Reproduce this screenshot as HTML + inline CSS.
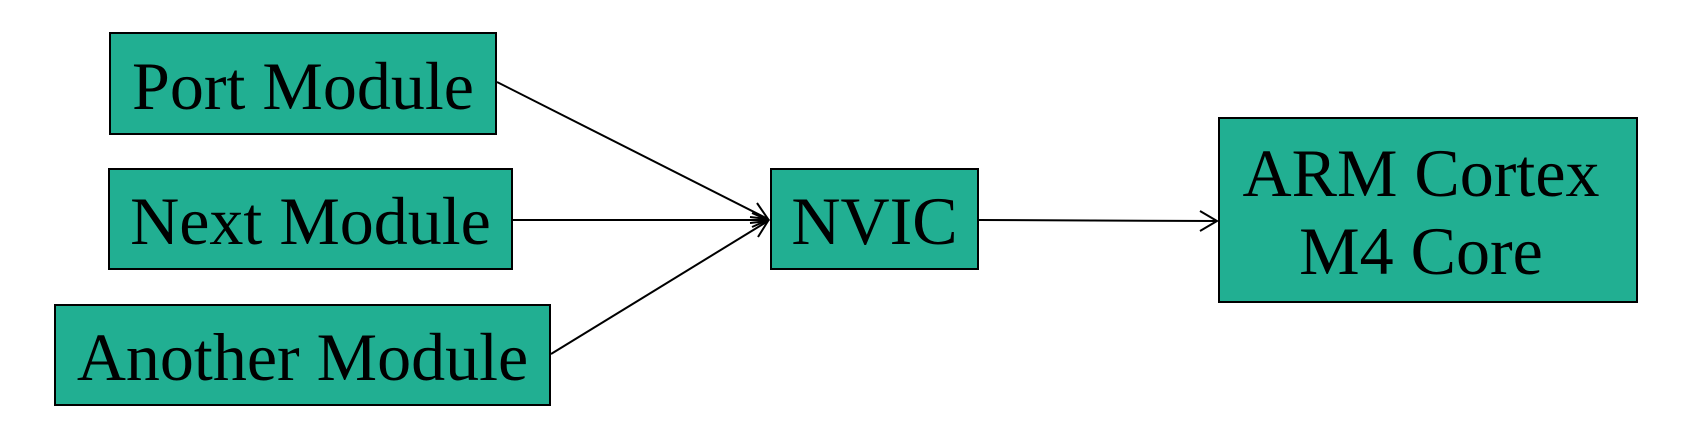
<!DOCTYPE html>
<html><head><style>
body{margin:0;width:1708px;height:422px;background:#fff;overflow:hidden;position:relative}
.b{position:absolute;background:#21af92;border:2px solid #000;box-sizing:border-box;font-family:"Liberation Serif",serif;font-size:68px;color:#000;display:flex;align-items:center;justify-content:center;text-align:center;line-height:78px;white-space:nowrap;padding-top:4px}
svg{position:absolute;left:0;top:0}
</style></head><body>
<div class="b" style="left:109px;top:32px;width:388px;height:103px">Port Module</div>
<div class="b" style="left:108px;top:168px;width:405px;height:102px">Next Module</div>
<div class="b" style="left:54px;top:304px;width:497px;height:102px">Another Module</div>
<div class="b" style="left:770px;top:168px;width:209px;height:102px">NVIC</div>
<div class="b" style="left:1218px;top:117px;width:420px;height:186px;padding-right:14px">ARM Cortex<br>M4 Core</div>
<svg width="1708" height="422" fill="none" stroke="#000" stroke-width="2">
<line x1="497" y1="82" x2="768" y2="219"/>
<line x1="513" y1="220" x2="768" y2="220"/>
<line x1="551" y1="354" x2="768" y2="221"/>
<path d="M757 203 L768 219 L750 217"/>
<path d="M752 213 L768 220 L752 227"/>
<path d="M750 223 L768 221 L758 237"/>
<line x1="979" y1="220" x2="1217" y2="221"/>
<path d="M1200 211 L1217 221 L1200 231"/>
</svg>
</body></html>
